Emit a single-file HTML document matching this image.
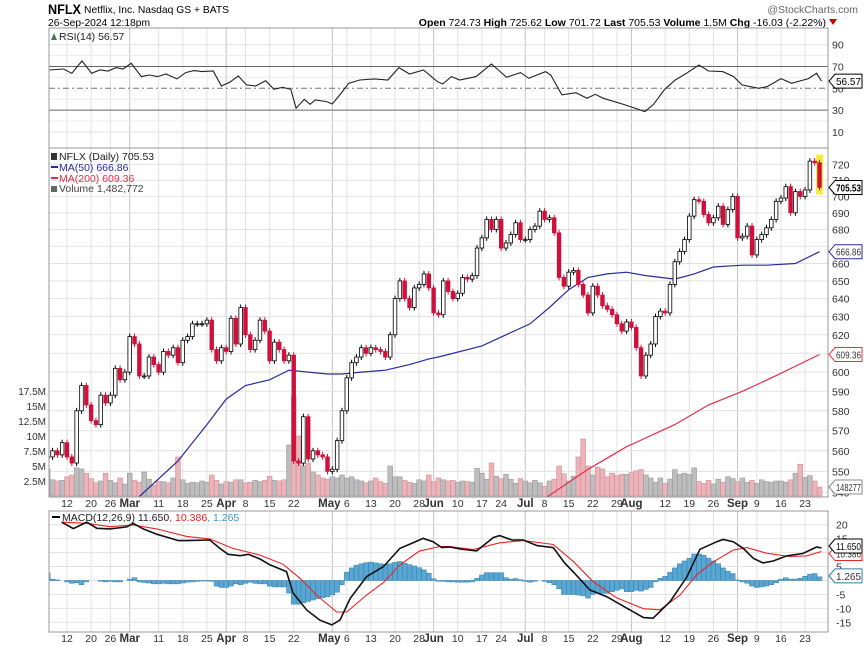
<!DOCTYPE html>
<html><head><meta charset="utf-8"><title>NFLX chart</title>
<style>
html,body{margin:0;padding:0;background:#fff;}
svg{display:block;font-family:"Liberation Sans",sans-serif;}
</style></head>
<body>
<svg id="chart" width="864" height="646" viewBox="0 0 864 646" xmlns="http://www.w3.org/2000/svg">
<g>
<text x="48" y="14" font-size="14" font-weight="bold" textLength="33" lengthAdjust="spacingAndGlyphs">NFLX</text>
<text x="84" y="13" font-size="10.5" textLength="145" lengthAdjust="spacingAndGlyphs">Netflix, Inc. Nasdaq GS + BATS</text>
<text x="48" y="26" font-size="10.5" textLength="102" lengthAdjust="spacingAndGlyphs">26-Sep-2024 12:18pm</text>
<text x="858" y="13" font-size="10.5" fill="#666" text-anchor="end">@StockCharts.com</text>
<text x="826" y="26" font-size="10.5" text-anchor="end"><tspan font-weight="bold">Open</tspan> 724.73 <tspan font-weight="bold">High</tspan> 725.62 <tspan font-weight="bold">Low</tspan> 701.72 <tspan font-weight="bold">Last</tspan> 705.53 <tspan font-weight="bold">Volume</tspan> 1.5M <tspan font-weight="bold">Chg</tspan> -16.03 (-2.22%)</text>
<path d="M829 19 L837 19 L833 25 Z" fill="#c00"/>
</g>
<g id="grid"></g>
<g id="rsiG"></g>
<g id="priceG"></g>
<g id="macdG"></g>
<g id="labels"></g>
</svg>
<script>
// ---------- data ----------
const firstIdx = -4;
const closes = [557,560,558,564,
557,554,580,593,583,575,573,588,584,588,
602,596,600,619,615,598,598,608,604,600,
611,609,613,605,617,619,626,626,626,628,
612,606,613,611,629,615,635,620,612,617,
628,622,606,616,612,606,609,555,554,577,
556,560,558,557,550,551,565,580,597,605,
608,613,610,613,612,611,608,620,640,650,
640,635,646,648,654,646,632,
631,650,644,640,643,652,651,653,669,675,
686,680,686,669,672,677,684,674,674,680,
682,691,686,687,678,652,647,655,656,648,
642,632,647,642,636,634,631,626,622,627,
624,613,598,609,615,630,633,632,648,661,
667,674,688,698,697,689,684,687,694,683,
692,700,675,676,682,665,674,677,681,686,
697,699,706,690,703,700,704,722,721,705.53];
const volumes = [4.5,2.7,2.5,2.6,
3.2,3.5,4.7,4.5,3.8,2.9,2.2,2.5,3.8,2.6,
2.2,3.0,2.0,3.8,2.6,2.3,4.0,2.8,1.8,2.4,
2.4,2.2,3.0,6.5,2.7,2.1,2.3,2.2,2.5,2.3,
3.5,2.6,2.0,2.4,2.3,2.7,2.7,2.2,2.3,2.6,
2.4,2.6,3.3,2.6,2.5,2.7,8.5,
16.5,10,5,5.5,4,3.5,
3.0,2.8,3.2,3.0,3.5,3.0,3.2,
2.7,2.5,2.2,2.5,3.0,2.4,2.1,5.0,3.2,3.2,
2.6,2.3,2.1,2.7,2.5,3.5,2.4,
3.0,2.7,2.5,2.6,2.3,2.5,2.4,2.3,4.6,3.8,
2.8,5.5,3.3,2.9,3.6,2.8,2.1,2.9,2.5,2.2,
2.6,2.2,1.6,2.5,2.8,5.0,3.7,2.5,3.3,6.5,
9.5,5.0,3.5,4.8,4.5,3.2,3.8,3.4,3.6,3.6,
3.9,4.2,4.4,3.5,3.0,2.3,3.0,2.1,2.8,4.4,
3.6,3.8,3.6,4.7,2.4,2.1,2.6,2.0,2.8,2.3,
3.2,2.9,2.4,3.0,2.3,2.6,2.1,2.7,2.4,2.3,
2.5,2.5,2.3,2.7,3.8,5.3,3.1,3.4,2.5,1.5];
const ma50Idx = [15,23,29,33,37,42,46,50,54,57,61,66,71,75,77,86,91,96,100,104,108,112,116,120,126,130,134,140,145,151,156];
const ma50Vals = [538,555,573,586,593,596,601,600,599,599,600,601,604,607,608,614,620,626,635,645,652,654,655,653,651,654,658,659,659,660,666.86];
const ma200Idx = [99,108,116,126,133,140,146,156];
const ma200Vals = [537,551,562,573,583,590,597,609.36];
const rsiIdx = [-3.6,-0.7,1.0,3.1,5.1,6.8,8.5,10.2,11.6,13.3,15.4,17.1,18.8,20.5,22.8,24.6,26.3,28,30.3,32,33.7,35.5,37.2,39.1,41.2,42.9,44.7,46.4,47.5,49.2,50.4,51.5,53.8,55,56.7,58.4,60.7,63.6,66.5,68.8,71,73.9,76.8,77.9,79.7,81.4,84.8,88,89.4,91.1,94,95.7,99.2,100.3,102.6,105.5,107.8,109.5,111.2,115.8,119.8,121.6,123.9,126.1,128.4,131,133,135.9,138.2,139.9,143.4,145.1,148,150.2,153.7,155.4,156.4];
const rsiVals = [66.8,67.7,63.8,75.1,63.8,66.8,65.9,69,67.7,72.9,60.7,62.2,60.7,63.1,58.6,64.4,66.2,65.3,65.9,52.1,55.5,61.3,53.1,52.1,57,49.1,50.9,49.1,31.7,39.9,35.3,39.3,37.8,35.6,44.8,54.6,57.6,58.6,57.6,69,63.1,66.8,56.1,54,60.7,57.6,60.7,72.3,66.8,60.1,64.4,59.2,65.3,62.2,43.9,46,40.8,44.5,40.8,34.7,28.6,35.3,49.1,57.6,63.8,71.4,65.9,65.3,60.7,53.1,50,51.5,58.9,54.6,58.9,63.8,56.57];
const macdIdx = [-1.1,1.3,4.1,6.2,8.9,12.4,13.7,15.8,18.6,23.1,24.8,29.6,31.7,33.4,35.9,37.6,40,42.1,45.5,46.9,49.7,52.4,54.9,56.6,58.7,62.1,65.6,69,71.8,73.8,75.9,77.7,79.4,81.5,84.9,88.4,89.7,92.2,94.6,97.4,100.8,103.2,104.9,108.4,111.9,116,119.5,121.5,125,128.5,131.2,134.7,136,138.1,140.2,142.3,144.3,146.4,149.2,152.6,155.4,156.4];
const macdVals = [20.9,18.6,20.9,18.7,18.5,19.2,20.5,18.5,16.6,14.3,14.3,14.5,11.5,9.4,8.9,9.4,7.7,5.6,3.2,-4.6,-10.6,-14.2,-15.9,-14.2,-6.4,1.4,5,11.5,13.6,15.1,13.9,11.8,12,11.3,10.6,15.4,16.1,14.5,14.5,12.5,11.8,6.2,3.2,-3.4,-5.8,-9.9,-13.3,-13.5,-7.6,1.3,11.2,13.9,14.7,13.9,11.5,7.9,6.3,7,8.8,9.7,12,11.65];
const signalIdx = [-1.1,4.1,8.9,13.7,18.6,24.8,29.6,34.4,40,44.8,48.3,51.7,55.9,58,62.1,65.6,69,73.1,77.3,79.4,84.2,89.7,94.6,100.8,104.9,109,113.9,119.5,122.9,127.1,130.5,134,138.1,140.9,145,149.8,153.3,156.4];
const signalVals = [20.9,20.5,19.3,19.9,18.5,15.8,14.9,11.5,9.1,5.8,0.8,-5.2,-11.3,-11.3,-5.2,-0.7,5.6,10.6,12.2,12.2,11.1,13.5,14.3,12.9,6.9,-0.3,-6.2,-10.1,-10.5,-5.2,2,6.7,10.9,11.8,9.8,8.6,8.8,10.386];
const histVals = [2.7,0.5,0.2,0,
-0.5,-1.0,-0.8,-1.5,-0.5,0,0,-0.3,-0.5,-0.3,-0.5,-0.5,0,
0.5,1.0,-0.5,-0.7,-0.9,-1.2,-1.2,-1.0,
-1.2,-1.2,-1.2,-0.9,-0.6,-0.5,-0.3,-0.2,-0.2,-0.3,-2.0,-2.5,
-2.5,-2.0,-1.2,-1.5,-1.0,-0.6,-1.0,-1.2,-1.2,-2.0,-2.3,-2.3,-2.3,
-4.5,-8.5,-8.5,-8.0,-7.5,-7.0,-6.5,-6.2,-5.8,-5.2,-4.2,-1.5,
3.0,4.5,5.5,6.0,6.4,6.6,6.3,6.0,5.8,6.0,6.5,6.8,6.2,5.7,5.2,4.6,3.8,2.6,0.6,-0.3,-0.3,
-0.5,-0.5,-0.6,-0.6,-0.6,-0.5,0.8,2.0,2.8,2.8,2.8,2.8,1.0,0.5,0.7,0.3,-0.3,-0.6,-0.3,0,
-0.3,-0.8,-1.5,-3.0,-5.0,-5.0,-5.0,-5.2,-5.5,-6.3,-5.0,-4.5,-4.6,-4.6,-4.0,-3.5,-3.0,-4.0,
-4.0,-3.5,-3.8,-3.2,-2.5,-0.5,0.8,1.5,3.0,4.5,6.0,7.0,8.0,9.5,9.5,9.0,8.0,7.0,6.0,4.5,
3.3,2.5,0.2,-0.5,-1.0,-2.0,-2.5,-2.3,-2.0,-1.5,-0.8,0.5,1.0,0.5,0.5,0.8,1.5,2.3,2.5,1.3];
const dateLabelIdx = [0,5,9,13,19,24,29,33,37,42,47,55,58,63,68,73,76,81,86,90,95,99,104,109,114,117,124,129,134,139,143,148,153];
const dateLabels = ["12","20","26","Mar","11","18","25","Apr","8","15","22","May","6","13","20","28","Jun","10","17","24","Jul","8","15","22","29","Aug","12","19","26","Sep","9","16","23"];
const monthLabels = ["Mar","Apr","May","Jun","Jul","Aug","Sep"];
const priceTicks = [720,710,700,690,680,670,660,650,640,630,620,610,600,590,580,570,560,550,540];
const volTicks = [17.5,15,12.5,10,7.5,5,2.5];
const volTickLabels = ["17.5M","15M","12.5M","10M","7.5M","5M","2.5M"];
const rsiTicks = [90,70,50,30,10];
const macdTicks = [20,15,10,5,0,-5,-10,-15];

// ---------- scales ----------
const L = 49, R = 828;
const xS = i => 67 + i * 4.824;
const yP = p => 164.3 + (Math.log(720) - Math.log(p)) * 1140;
const yV = v => 496 - v * 6;
const yR = v => 88.3 - (v - 50) * 1.09;
const yM = v => 580.5 - v * 2.79;
const NS = "http://www.w3.org/2000/svg";
function mk(tag, attrs, parent) {
  const e = document.createElementNS(NS, tag);
  for (const k in attrs) e.setAttribute(k, attrs[k]);
  parent.appendChild(e);
  return e;
}
const svg = document.getElementById('chart');
const grid = document.getElementById('grid');
const rsiG = document.getElementById('rsiG');
const priceG = document.getElementById('priceG');
const macdG = document.getElementById('macdG');
const labels = document.getElementById('labels');

const defs = mk('defs', {}, svg);
function clip(id, y1, y2) {
  const c = mk('clipPath', {id: id}, defs);
  mk('rect', {x: L, y: y1, width: R - L, height: y2 - y1}, c);
}
clip('cR', 28, 148); clip('cP', 148, 497); clip('cM', 511, 632);

const panels = [[28,148],[148,497],[511,632]];
panels.forEach(([t,b]) => {
  dateLabelIdx.forEach((di, k) => {
    const isM = monthLabels.includes(dateLabels[k]);
    const ln = mk('line', {x1: xS(di), x2: xS(di), y1: t, y2: b, stroke: isM ? '#c4c4c4' : '#e2e2e2', 'stroke-width': 1}, grid);
    
    
  });
});
priceTicks.forEach(p => {
  const ln = mk('line', {x1: L, x2: R, y1: yP(p), y2: yP(p), stroke: '#e2e2e2'}, grid);
  
  
  if (p !== 670) {
    const t = mk('text', {x: 832, y: yP(p) + 4, 'font-size': 10.5, fill: '#333'}, labels);
    t.textContent = p;
    
    
  }
});
volTicks.forEach((v, k) => {
  const t = mk('text', {x: 46, y: yV(v) + 4, 'font-size': 10, 'text-anchor': 'end', fill: '#333'}, labels);
  t.textContent = volTickLabels[k];
  
  
});
[80,60,40,20].forEach(v => mk('line', {x1: L, x2: R, y1: yR(v), y2: yR(v), stroke: '#ececec'}, grid));
rsiTicks.forEach(v => {
  const ln = mk('line', {x1: L, x2: R, y1: yR(v), y2: yR(v), stroke: (v === 70 || v === 30) ? '#666' : '#e2e2e2', 'stroke-dasharray': v === 50 ? '6,3,2,3' : 'none'}, grid);
  if (v === 50) ln.setAttribute('stroke', '#777');
  
  
  const t = mk('text', {x: 832, y: yR(v) + 4, 'font-size': 10.5, fill: '#333'}, labels);
  t.textContent = v;
  
  
});
macdTicks.forEach(v => {
  const ln = mk('line', {x1: L, x2: R, y1: yM(v), y2: yM(v), stroke: '#e2e2e2'}, grid);
  
  
  if (v !== 0 && v !== 10) {
    const t = mk('text', {x: 836, y: yM(v) + 4, 'font-size': 10.5, fill: '#333'}, labels);
    t.textContent = v;
    
    
  }
});
panels.forEach(([t,b]) => {
  const r = mk('rect', {x: L, y: t, width: R - L, height: b - t, fill: 'none', stroke: '#999'}, labels);
  
  
});
[507, 642].forEach(yy => {
  dateLabelIdx.forEach((di, k) => {
    const isM = monthLabels.includes(dateLabels[k]);
    const t = mk('text', {x: xS(di) + (dateLabels[k] === 'May' ? -3 : 0), y: yy, 'font-size': isM ? 11.5 : 10.5, 'font-weight': isM ? 'bold' : 'normal', 'text-anchor': 'middle', fill: '#333'}, labels);
    t.textContent = dateLabels[k];
    
    
  });
});

// ---------- volume ----------
const volG = mk('g', {'clip-path': 'url(#cP)'}, priceG);
volumes.forEach((v, i) => {
  const idx = firstIdx + i;
  const down = i > 0 && closes[i] < closes[i - 1];
  const r = mk('rect', {x: xS(idx) - 2.4, y: yV(v), width: 4.8, height: 496 - yV(v), fill: down ? '#eab4bb' : '#bdbdbd', stroke: down ? '#d98a94' : '#999', 'stroke-width': 0.6}, volG);
  
  
});
function line(idxArr, vals, ys, color, g, name, w) {
  const p = mk('polyline', {points: idxArr.map((d, k) => xS(d).toFixed(1) + ',' + ys(vals[k]).toFixed(1)).join(' '), fill: 'none', stroke: color, 'stroke-width': w || 1.2}, g);
  
  
  return p;
}
line(ma50Idx, ma50Vals, yP, '#2b2ba0', volG, 'ma50-line');
line(ma200Idx, ma200Vals, yP, '#e0304a', volG, 'ma200-line');
// ---------- candles ----------
const last = closes.length - 1;
const hl = mk('rect', {x: xS(firstIdx + last) - 3.5, y: yP(725.6) - 1, width: 7, height: yP(701.7) - yP(725.6) + 2, fill: '#f5ef3a'}, volG);


closes.forEach((c, i) => {
  const idx = firstIdx + i;
  const o = i > 0 ? closes[i - 1] : c;
  const up = c >= o;
  const x = xS(idx);
  const top = yP(Math.max(o, c)), bot = yP(Math.min(o, c));
  const col = up ? '#000' : '#d0103a';
  const w = mk('line', {x1: x, x2: x, y1: top - 3, y2: bot + 3, stroke: col, 'stroke-width': 1}, volG);
  
  
  const b = mk('rect', {x: x - 1.8, y: top, width: 3.6, height: Math.max(1, bot - top), fill: up ? '#fff' : '#d0103a', stroke: col, 'stroke-width': 0.8}, volG);
  
  
});
// ---------- RSI ----------
const rG = mk('g', {'clip-path': 'url(#cR)'}, rsiG);
line(rsiIdx, rsiVals, yR, '#222', rG, 'rsi-line', 1.1);
// ---------- MACD ----------
const mG = mk('g', {'clip-path': 'url(#cM)'}, macdG);
histVals.forEach((h, i) => {
  const idx = firstIdx + i;
  const y0 = yM(0), y1 = yM(h);
  const r = mk('rect', {x: xS(idx) - 2.41, y: Math.min(y0, y1), width: 4.82, height: Math.abs(y1 - y0), fill: '#5aa6d2', stroke: '#2f7fae', 'stroke-width': 0.5}, mG);
  
  
});
line(signalIdx, signalVals, yM, '#ee2222', mG, 'macd-signal-line', 1.1);
line(macdIdx, macdVals, yM, '#111', mG, 'macd-line', 1.6);

// ---------- value tags ----------
function tag(y, text, color, name) {
  const g = mk('g', {}, labels);
  
  
  mk('path', {d: `M829 ${y} L835 ${y-7} L862 ${y-7} L862 ${y+7} L835 ${y+7} Z`, fill: '#fff', stroke: color, 'stroke-width': 1}, g);
  const t = mk('text', {x: 836, y: y + 4, 'font-size': 10.5, fill: color === '#000' ? '#000' : '#333', 'font-weight': name === 'last-price-tag' ? 'bold' : 'normal', textLength: 25, lengthAdjust: 'spacingAndGlyphs'}, g);
  t.textContent = text;
}
tag(yR(rsiVals[rsiVals.length - 1]), '56.57', '#000', 'rsi-value-tag');
tag(yP(closes[last]), '705.53', '#000', 'last-price-tag');
tag(yP(ma50Vals[ma50Vals.length - 1]), '666.86', '#2b2ba0', 'ma50-value-tag');
tag(yP(ma200Vals[ma200Vals.length - 1]), '609.36', '#e0304a', 'ma200-value-tag');
tag(yV(volumes[last]), '148277', '#888', 'volume-value-tag');
tag(yM(signalVals[signalVals.length - 1]) + 2, '10.386', '#ee2222', 'signal-value-tag');
tag(yM(macdVals[macdVals.length - 1]) - 2, '11.650', '#000', 'macd-value-tag');
tag(yM(histVals[histVals.length - 1]) - 1, '1.265', '#2f7fae', 'histogram-value-tag');

// ---------- legends ----------
function txt(x, y, s, color, name, size) {
  const t = mk('text', {x: x, y: y, 'font-size': size || 10.5, fill: color}, labels);
  t.textContent = s;
  
  
}
mk('path', {d: 'M51 40 L54 33 L57 40 Z', fill: '#4a7a4a'}, labels);
txt(59, 40, 'RSI(14) 56.57', '#222', 'rsi-legend');
txt(59, 160, 'NFLX (Daily) 705.53', '#222', 'price-legend');
mk('rect', {x: 51, y: 153, width: 6, height: 7, fill: '#333'}, labels);
mk('line', {x1: 51, x2: 58, y1: 167, y2: 167, stroke: '#2b2ba0', 'stroke-width': 2}, labels);
txt(59, 171, 'MA(50) 666.86', '#2b2ba0', 'ma50-legend');
mk('line', {x1: 51, x2: 58, y1: 178, y2: 178, stroke: '#e0304a', 'stroke-width': 2}, labels);
txt(59, 182, 'MA(200) 609.36', '#e0304a', 'ma200-legend');
mk('rect', {x: 51, y: 186, width: 6, height: 6, fill: '#666'}, labels);
txt(59, 192, 'Volume 1,482,772', '#444', 'volume-legend');
mk('line', {x1: 52, x2: 60, y1: 517, y2: 517, stroke: '#000', 'stroke-width': 2}, labels);
const ml = mk('text', {x: 62, y: 521, 'font-size': 10.5}, labels);


ml.innerHTML = '<tspan fill="#222">MACD(12,26,9) 11.650</tspan><tspan fill="#e22">, 10.386</tspan><tspan fill="#3a9ad0">, 1.265</tspan>';
</script>
</body></html>
